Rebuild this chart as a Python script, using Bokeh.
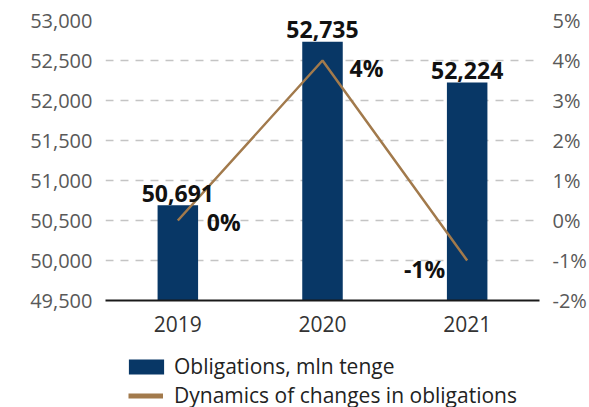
from bokeh.plotting import figure
from bokeh.layouts import column
from bokeh.models import (ColumnDataSource, FixedTicker, NumeralTickFormatter,
                          PrintfTickFormatter, LinearAxis, Range1d, Legend, LegendItem)
from bokeh.core.properties import value
from bokeh.embed import file_html
from bokeh.resources import INLINE

years = ["2019", "2020", "2021"]
obligations = [50691, 52735, 52224]
changes_pct = [0, 4, -1]
left_ticks = [49500, 50000, 50500, 51000, 51500, 52000, 52500, 53000]
right_ticks = [-2, -1, 0, 1, 2, 3, 4, 5]
series_names = ["Obligations, mln tenge", "Dynamics of changes in obligations"]

FONT = "Open Sans"
BAR = "#083766"
LINE = "#a27a4c"

src = ColumnDataSource(dict(
    x=years, y=obligations, pct=changes_pct,
    lab=["{:,}".format(v) for v in obligations],
    plab=["{}%".format(v) for v in changes_pct],
))

p = figure(width=589, height=345, x_range=years, y_range=Range1d(49500, 53000),
           output_backend="svg", toolbar_location=None,
           min_border_left=105, min_border_top=20, min_border_bottom=45,
           min_border_right=43)
p.outline_line_color = None
p.background_fill_color = "white"
p.border_fill_color = "white"
p.extra_y_ranges = {"pct": Range1d(-2, 5)}

bars = p.vbar(x="x", top="y", bottom=49500, width=0.28, source=src,
              fill_color=BAR, line_color=None)
line = p.line(x="x", y="pct", source=src, y_range_name="pct",
              line_color=LINE, line_width=2.5)

# axes
p.yaxis.ticker = FixedTicker(ticks=left_ticks)
p.yaxis.formatter = NumeralTickFormatter(format="0,0")
ax = p.yaxis[0]
ax.axis_line_color = None
ax.major_tick_line_color = None
ax.minor_tick_line_color = None
ax.major_label_standoff = 7
ax.major_label_text_font = FONT
ax.major_label_text_font_size = "20px"
ax.major_label_text_color = "#595959"

ra = LinearAxis(y_range_name="pct", ticker=FixedTicker(ticks=right_ticks),
                formatter=PrintfTickFormatter(format="%d%%"))
ra.axis_line_color = None
ra.major_tick_line_color = None
ra.minor_tick_line_color = None
ra.major_label_standoff = 7
ra.major_label_text_font = FONT
ra.major_label_text_font_size = "20px"
ra.major_label_text_color = "#595959"
p.add_layout(ra, "right")

xa = p.xaxis[0]
xa.axis_line_color = "#1a1a1a"
xa.axis_line_width = 2
xa.major_tick_line_color = None
xa.minor_tick_line_color = None
xa.major_label_standoff = 9
xa.major_label_text_font = FONT
xa.major_label_text_font_size = "21px"
xa.major_label_text_color = "#333333"

p.xgrid.grid_line_color = None
p.ygrid.grid_line_color = "#c4c4c4"
p.ygrid.grid_line_dash = "8 7"
p.ygrid.grid_line_width = 1.5

# value labels above bars
p.text(x="x", y="y", text="lab", source=src, text_align="center",
       text_baseline="alphabetic", y_offset=-12, text_font=value(FONT),
       text_font_style="bold", text_font_size="23px", text_color="#111111")

# percentage labels
offsets = [(29, 1, "left"), (27, 7, "left"), (-22, 8, "right")]
for i, (dx, dy, al) in enumerate(offsets):
    p.text(x=[years[i]], y=[changes_pct[i]], text=[src.data["plab"][i]],
           y_range_name="pct", x_offset=dx, y_offset=dy, text_align=al,
           text_baseline="middle", text_font=value(FONT),
           text_font_style="bold", text_font_size="23px", text_color="#111111")

# legend panel (separate figure below; its frame is aligned with the main frame)
lg = figure(width=589, height=62, x_range=Range1d(0, 1), y_range=Range1d(0, 1),
            output_backend="svg", toolbar_location=None,
            x_axis_location=None, y_axis_location=None,
            min_border_left=105, min_border_right=43, min_border_top=0, min_border_bottom=0)
lg.grid.visible = False
lg.outline_line_color = None
lg.border_fill_color = "white"
nan = float("nan")
leg_bar = lg.vbar(x=[0.5], top=[nan], bottom=[nan], width=0.1, fill_color=BAR, line_color=None)
leg_line = lg.line(x=[0.5, 0.6], y=[nan, nan], line_color=LINE, line_width=5)

common = dict(orientation="vertical", spacing=4, padding=0, margin=0,
              border_line_color=None, background_fill_alpha=0,
              label_text_font=FONT, label_text_font_size="21px",
              label_text_color="#222222")
legend1 = Legend(items=[LegendItem(label=series_names[0], renderers=[leg_bar])],
                 location=(19, 27), glyph_width=44, glyph_height=19,
                 label_standoff=6, **common)
legend2 = Legend(items=[LegendItem(label=series_names[1], renderers=[leg_line])],
                 location=(23, -2), glyph_width=35, glyph_height=15,
                 label_standoff=11, **common)
lg.add_layout(legend1, "center")
lg.add_layout(legend2, "center")

layout = column(p, lg, spacing=0)
open("out.html", "w").write(file_html(layout, INLINE))
